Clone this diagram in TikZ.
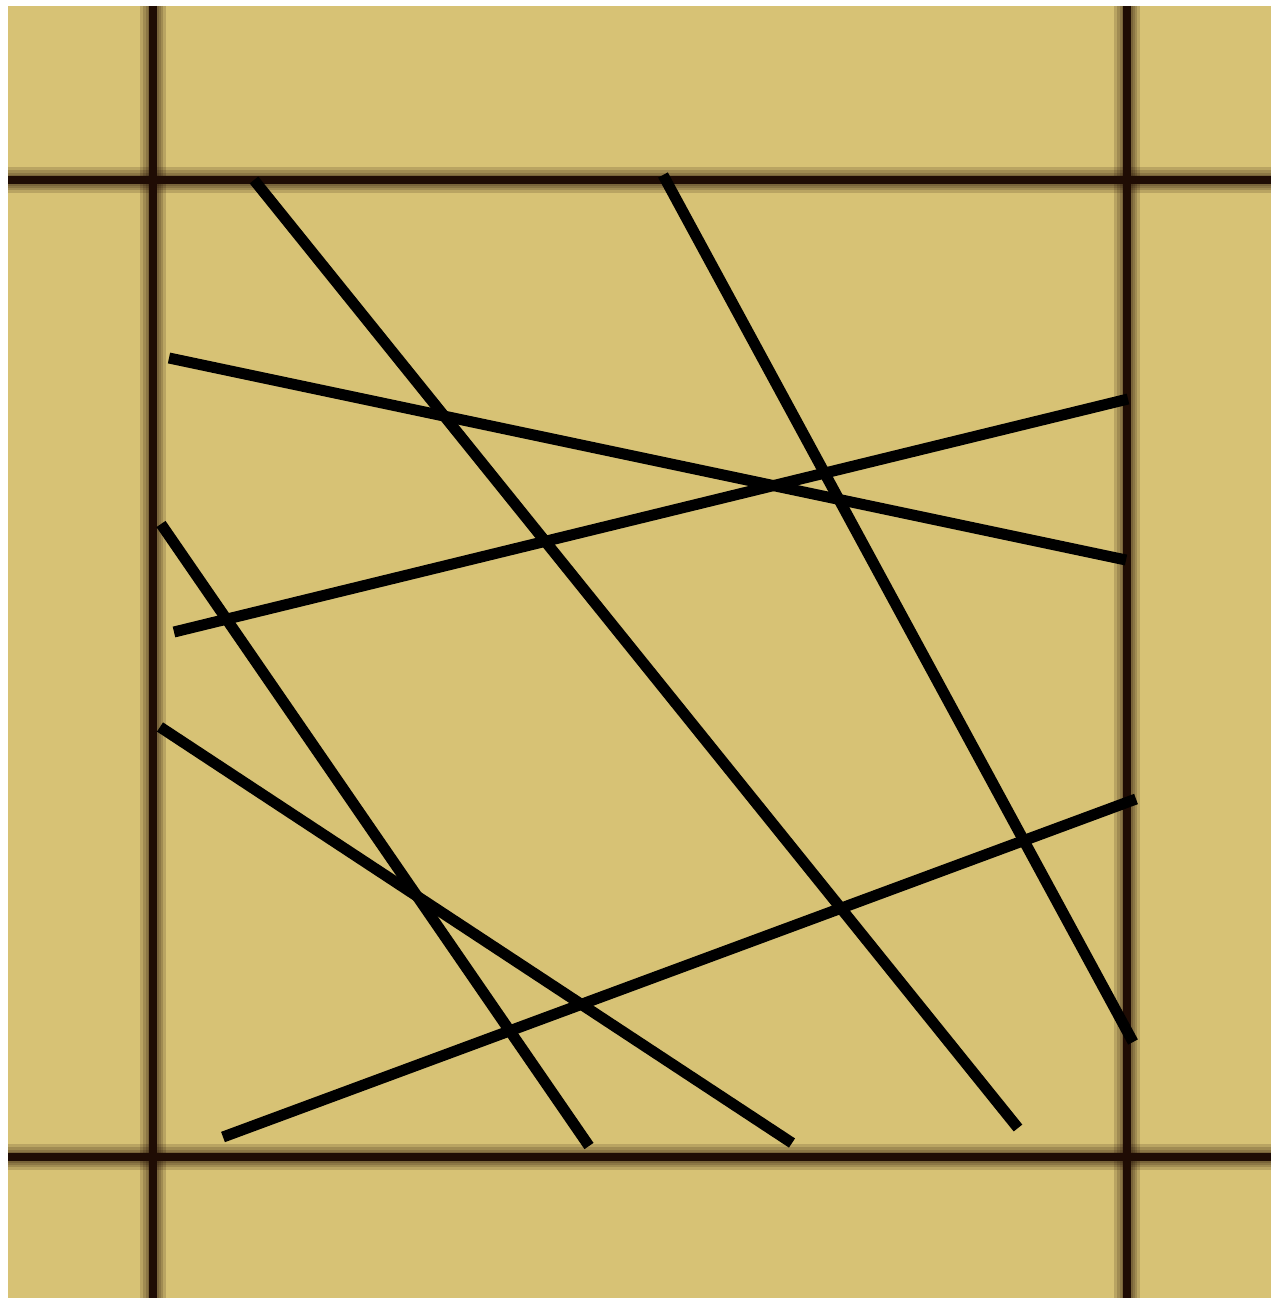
\documentclass[tikz,border=0pt]{standalone}
\begin{document}
\begin{tikzpicture}[x=1pt,y=-1pt,
  board/.style={fill=boardtan,draw=none},
  gridhalo/.style={draw=gridbrown,line width=#1,opacity=0.16},
  gridcore/.style={draw=gridbrown,line width=8pt},
  stick/.style={draw=black,line width=11pt,line cap=butt}]
\definecolor{boardtan}{HTML}{D7C275}
\definecolor{gridbrown}{HTML}{1F0C04}
\useasboundingbox (0,0) rectangle (1271,1298);
\fill[white] (0,0) rectangle (1271,1298);
\path[board] (8,6) rectangle (1271,1298);
% grid lines (soft edges)
\foreach \w in {26pt,20pt,15pt,11pt}{
  \foreach \gx in {153,1127}{
    \draw[gridhalo=\w] (\gx,6) -- (\gx,1298);
  }
  \foreach \gy in {180,1157}{
    \draw[gridhalo=\w] (8,\gy) -- (1271,\gy);
  }
}
\foreach \gx in {153,1127}{
  \draw[gridcore] (\gx,6) -- (\gx,1298);
}
\foreach \gy in {180,1157}{
  \draw[gridcore] (8,\gy) -- (1271,\gy);
}
% sticks
\coordinate (a1) at (254,180);  \coordinate (a2) at (1018,1128);
\coordinate (b1) at (663,175);  \coordinate (b2) at (1133,1042);
\coordinate (c1) at (169,358);  \coordinate (c2) at (1126,560);
\coordinate (d1) at (174,632);  \coordinate (d2) at (1128,399);
\coordinate (e1) at (161,524);  \coordinate (e2) at (589,1146);
\coordinate (f1) at (160,727);  \coordinate (f2) at (792,1143);
\coordinate (g1) at (223,1137); \coordinate (g2) at (1136,799);
\draw[stick] (a1) -- (a2);
\draw[stick] (b1) -- (b2);
\draw[stick] (c1) -- (c2);
\draw[stick] (d1) -- (d2);
\draw[stick] (e1) -- (e2);
\draw[stick] (f1) -- (f2);
\draw[stick] (g1) -- (g2);
\end{tikzpicture}
\end{document}
